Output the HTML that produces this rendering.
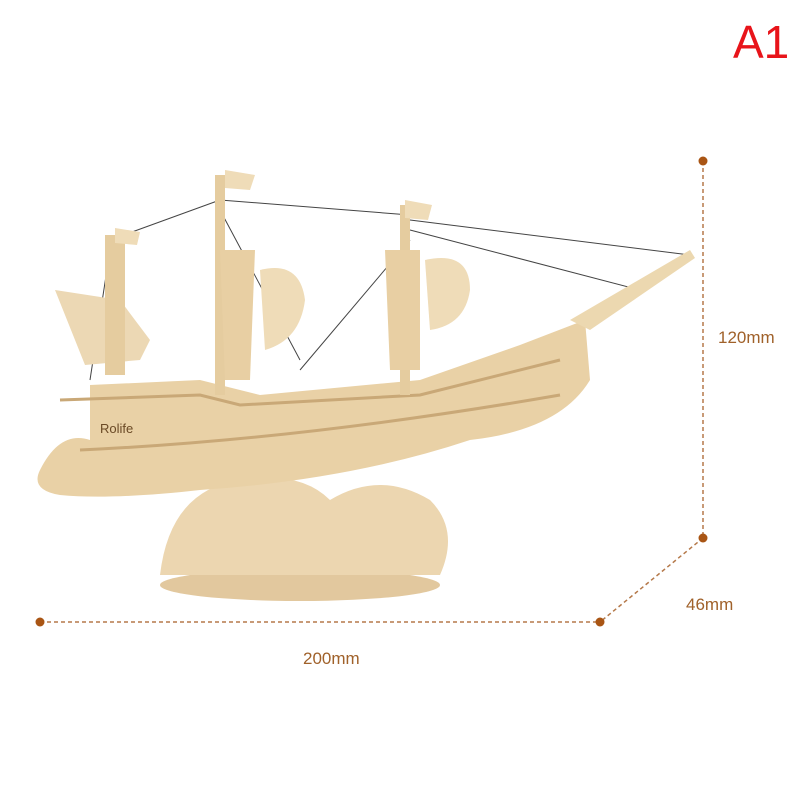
<!DOCTYPE html>
<html><head><meta charset="utf-8"><style>
html,body{margin:0;padding:0;background:#fff;width:800px;height:800px;overflow:hidden}
svg{display:block}
text{font-family:"Liberation Sans",sans-serif}
</style></head><body>
<svg width="800" height="800" viewBox="0 0 800 800" xmlns="http://www.w3.org/2000/svg">
<rect width="800" height="800" fill="#fff"/>
<text x="733" y="58" font-size="46" fill="#e8141a">A1</text>
<!-- dimension lines -->
<g stroke="#b5794a" stroke-width="1.5" stroke-dasharray="4,3" fill="none">
<line x1="703" y1="161" x2="703" y2="538"/>
<line x1="703" y1="538" x2="600" y2="622"/>
<line x1="40" y1="622" x2="600" y2="622"/>
</g>
<g fill="#a95514">
<circle cx="703" cy="161" r="4.5"/><circle cx="703" cy="538" r="4.5"/>
<circle cx="600" cy="622" r="4.5"/><circle cx="40" cy="622" r="4.5"/>
</g>
<g fill="#a0612a" font-size="17">
<text x="718" y="343">120mm</text>
<text x="686" y="610">46mm</text>
<text x="303" y="664">200mm</text>
</g>
<!-- ship approximation -->
<g stroke="#444" stroke-width="1" fill="none">
<line x1="220" y1="200" x2="110" y2="240"/><line x1="220" y1="200" x2="410" y2="215"/>
<line x1="410" y1="220" x2="690" y2="255"/><line x1="410" y1="230" x2="640" y2="290"/>
<line x1="220" y1="210" x2="300" y2="360"/><line x1="410" y1="240" x2="300" y2="370"/>
<line x1="110" y1="250" x2="90" y2="380"/>
</g>
<!-- base -->
<ellipse cx="300" cy="585" rx="140" ry="16" fill="#e2c89e"/>
<path d="M160 575 Q170 490 240 480 Q300 470 330 500 Q380 470 430 500 Q460 530 440 575 Z" fill="#ecd6b0"/>
<!-- hull -->
<path d="M40 470 Q60 430 90 440 L90 385 L200 380 L260 395 L420 380 L520 345 L585 320 L590 380 Q560 430 470 440 Q350 480 200 490 Q110 500 60 495 Q30 490 40 470 Z" fill="#e9d1a6"/>
<path d="M60 400 L200 395 L240 405 L420 395 L560 360" stroke="#c9a877" stroke-width="3" fill="none"/>
<path d="M80 450 Q300 440 560 395" stroke="#c9a877" stroke-width="3" fill="none"/>
<!-- sails / masts -->
<path d="M55 290 L120 300 L150 340 L140 360 L85 365 Z" fill="#ecd8b4"/>
<rect x="105" y="235" width="20" height="140" fill="#e5cc9f"/>
<rect x="215" y="175" width="10" height="220" fill="#e5cc9f"/>
<path d="M220 250 L255 250 L250 380 L225 380 Z" fill="#e8cfa3"/>
<path d="M260 270 Q300 260 305 300 Q300 340 265 350 Z" fill="#efdcb8"/>
<rect x="400" y="205" width="10" height="190" fill="#e5cc9f"/>
<path d="M385 250 L420 250 L420 370 L390 370 Z" fill="#e8cfa3"/>
<path d="M425 260 Q470 250 470 290 Q465 325 430 330 Z" fill="#efdcb8"/>
<path d="M570 320 L690 250 L695 258 L590 330 Z" fill="#ecd8b0"/>
<path d="M225 170 L255 175 L250 190 L225 188 Z" fill="#efdcb8"/>
<path d="M405 200 L432 205 L428 220 L405 218 Z" fill="#efdcb8"/>
<path d="M115 228 L140 232 L137 245 L115 243 Z" fill="#efdcb8"/>
<text x="100" y="433" font-size="13" fill="#6b4a26" font-family="Liberation Serif">Rolife</text>
</g>
</svg>
</body></html>
